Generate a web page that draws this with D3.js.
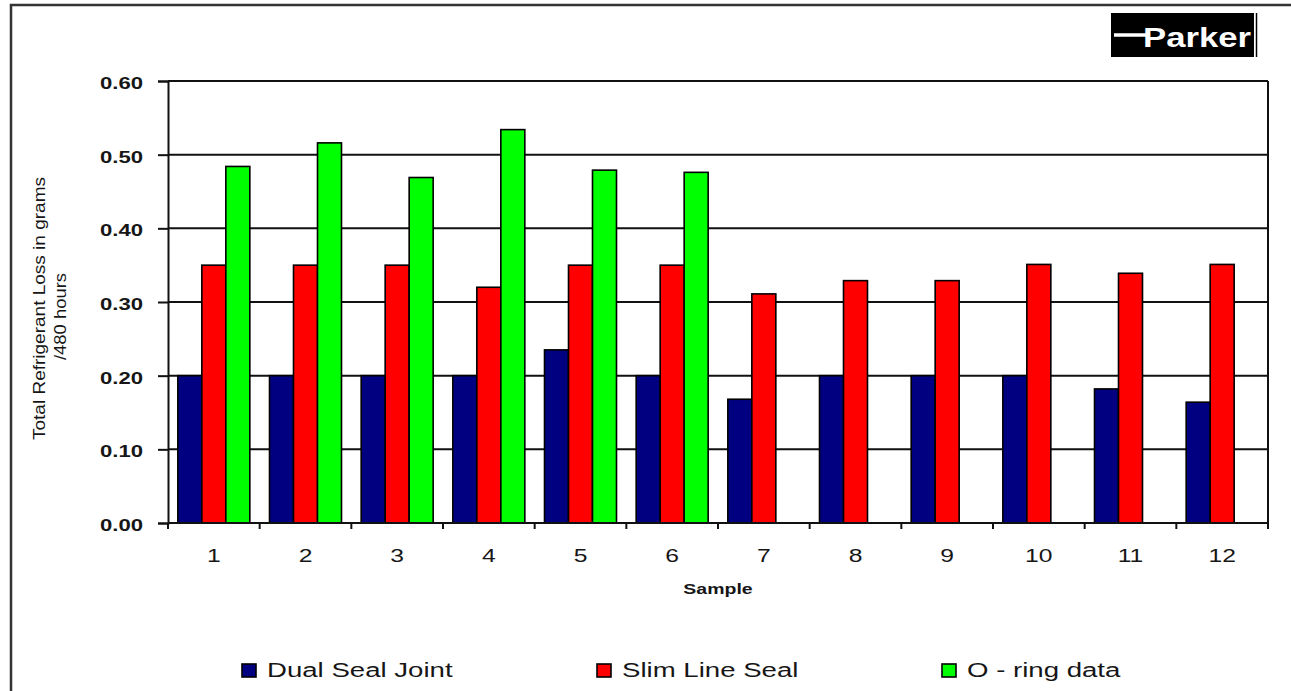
<!DOCTYPE html>
<html>
<head>
<meta charset="utf-8">
<script src="https://cdn.jsdelivr.net/npm/d3@7"></script>
<style>
  html, body { margin: 0; padding: 0; background: #fff; }
  svg { display: block; }
  text { font-family: "Liberation Sans", Arial, sans-serif; fill: #161616; }
</style>
</head>
<body>
<svg id="chart" width="1291" height="691"></svg>
<script>
// Samples on the x axis
const categories = ["1", "2", "3", "4", "5", "6", "7", "8", "9", "10", "11", "12"];

// Total refrigerant loss (grams / 480 hours) per sample
const dualSealJoint = [0.20, 0.20, 0.20, 0.20, 0.235, 0.20, 0.168, 0.20, 0.20, 0.20, 0.182, 0.164];
const slimLineSeal  = [0.35, 0.35, 0.35, 0.32, 0.35, 0.35, 0.311, 0.329, 0.329, 0.351, 0.339, 0.351];
const oRingData     = [0.484, 0.516, 0.469, 0.534, 0.479, 0.476, null, null, null, null, null, null];

const seriesNames = ["Dual Seal Joint", "Slim Line Seal", "O - ring data"];
const yTickValues = [0, 0.1, 0.2, 0.3, 0.4, 0.5, 0.6];

// Styling
const seriesColors = ["#000080", "#ff0000", "#00ff00"];
const stretch = 1.38; // wide, flat lettering used throughout

const svg = d3.select("#chart");
const W = 1291, H = 691;
const plot = { left: 168, right: 1268, top: 81, bottom: 523 };

svg.append("rect").attr("width", W).attr("height", H).attr("fill", "#fff");

// Outer frame of the chart area
svg.append("rect")
  .attr("x", 11).attr("y", 5)
  .attr("width", W + 20).attr("height", H + 20)
  .attr("fill", "none").attr("stroke", "#333").attr("stroke-width", 2.5);

// Scales
const x0 = d3.scaleBand().domain(categories).range([plot.left, plot.right]).padding(0);
const x1 = d3.scaleBand().domain(seriesNames).range([0, x0.bandwidth()])
  .paddingInner(0).paddingOuter(0.41);
const y = d3.scaleLinear().domain([0, 0.6]).range([plot.bottom, plot.top]);

// Horizontal gridlines
svg.append("g").selectAll("line")
  .data(yTickValues)
  .join("line")
  .attr("x1", plot.left).attr("x2", plot.right)
  .attr("y1", d => y(d)).attr("y2", d => y(d))
  .attr("stroke", "#111").attr("stroke-width", 2);

// Plot border (right edge)
svg.append("line")
  .attr("x1", plot.right).attr("x2", plot.right)
  .attr("y1", plot.top).attr("y2", plot.bottom)
  .attr("stroke", "#111").attr("stroke-width", 2);

// Bars
const seriesValues = [dualSealJoint, slimLineSeal, oRingData];
const barData = [];
categories.forEach((c, i) => {
  seriesNames.forEach((s, j) => {
    const v = seriesValues[j][i];
    if (v !== null && v !== undefined) barData.push({ cat: c, series: s, idx: j, value: v });
  });
});

svg.append("g").selectAll("rect")
  .data(barData)
  .join("rect")
  .attr("x", d => x0(d.cat) + x1(d.series))
  .attr("y", d => y(d.value))
  .attr("width", x1.bandwidth())
  .attr("height", d => y(0) - y(d.value))
  .attr("fill", d => seriesColors[d.idx])
  .attr("stroke", "#000").attr("stroke-width", 1.6);

// Y axis
const yAxis = d3.axisLeft(y).tickValues(yTickValues).tickFormat(d3.format(".2f")).tickSize(10).tickPadding(0);
const gy = svg.append("g").attr("transform", `translate(${plot.left},0)`).call(yAxis);
gy.select(".domain").attr("stroke", "#111").attr("stroke-width", 2);
gy.selectAll(".tick line").attr("stroke", "#111").attr("stroke-width", 2);
gy.selectAll(".tick text")
  .attr("x", null).attr("dy", null)
  .attr("font-size", 16).attr("font-weight", "bold")
  .attr("fill", "#222")
  .attr("text-anchor", "end")
  .attr("transform", `translate(-25,7.6) scale(${stretch},1)`)
  .attr("font-family", "'Liberation Sans', Arial, sans-serif");

// X axis: ticks at category boundaries
const gx = svg.append("g").attr("transform", `translate(0,${plot.bottom})`);
gx.append("line")
  .attr("x1", plot.left).attr("x2", plot.right)
  .attr("stroke", "#111").attr("stroke-width", 2);
const boundaries = categories.map(c => x0(c)).concat([plot.right]);
gx.selectAll("line.tk")
  .data(boundaries)
  .join("line").attr("class", "tk")
  .attr("x1", d => d).attr("x2", d => d)
  .attr("y1", 0).attr("y2", 6)
  .attr("stroke", "#111").attr("stroke-width", 2);
gx.selectAll("text")
  .data(categories)
  .join("text")
  .attr("transform", d => `translate(${x0(d) + x0.bandwidth() / 2},38.5) scale(1.3,1)`)
  .attr("text-anchor", "middle")
  .attr("font-size", 19)
  .text(d => d);

// Axis titles
svg.append("text")
  .attr("transform", `translate(${(plot.left + plot.right) / 2},594) scale(1.3,1)`)
  .attr("text-anchor", "middle")
  .attr("font-size", 15).attr("font-weight", "bold")
  .text("Sample");

svg.append("text")
  .attr("transform", "translate(45,308.5) rotate(-90)")
  .attr("text-anchor", "middle")
  .attr("font-size", 17)
  .attr("textLength", 263).attr("lengthAdjust", "spacingAndGlyphs")
  .text("Total Refrigerant Loss in grams");

svg.append("text")
  .attr("transform", "translate(66,316.5) rotate(-90)")
  .attr("text-anchor", "middle")
  .attr("font-size", 17)
  .attr("textLength", 87).attr("lengthAdjust", "spacingAndGlyphs")
  .text("/480 hours");

// Legend
const legendX = [242, 597, 942];
const legend = svg.append("g").selectAll("g")
  .data(seriesNames)
  .join("g")
  .attr("transform", (d, i) => `translate(${legendX[i]},664)`);
legend.append("rect")
  .attr("width", 14).attr("height", 13)
  .attr("fill", (d, i) => seriesColors[i])
  .attr("stroke", "#000").attr("stroke-width", 1.6);
legend.append("text")
  .attr("transform", `translate(25,13) scale(${stretch},1)`)
  .attr("font-size", 20)
  .text(d => d);

// Company mark in the top-right corner
const logo = svg.append("g");
logo.append("rect").attr("x", 1111).attr("y", 13).attr("width", 143).attr("height", 44).attr("fill", "#000");
logo.append("line").attr("x1", 1256.5).attr("x2", 1256.5).attr("y1", 13).attr("y2", 57)
  .attr("stroke", "#000").attr("stroke-width", 1.5);
logo.append("line").attr("x1", 1114).attr("x2", 1148).attr("y1", 35).attr("y2", 35)
  .attr("stroke", "#fff").attr("stroke-width", 3.5);
logo.append("text")
  .attr("x", 1143).attr("y", 47)
  .attr("font-size", 27).attr("font-weight", "bold")
  .attr("textLength", 108).attr("lengthAdjust", "spacingAndGlyphs")
  .style("fill", "#fff")
  .text("Parker");
</script>
</body>
</html>
